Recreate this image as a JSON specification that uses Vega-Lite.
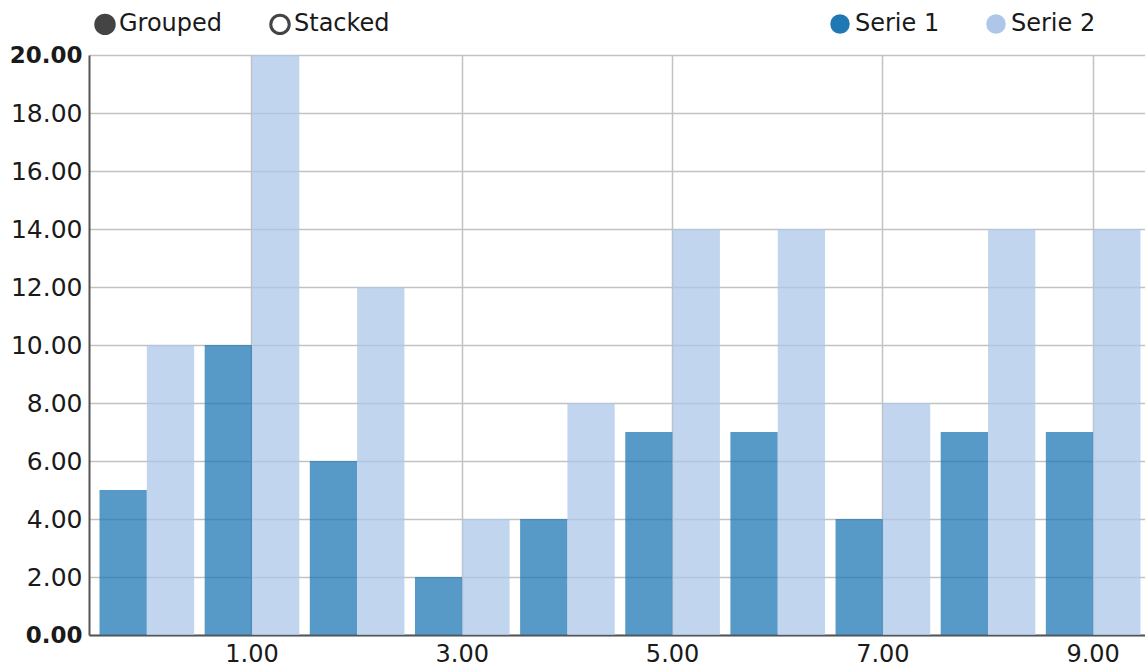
{
  "$schema": "https://vega.github.io/schema/vega-lite/v6.json",
  "width": 1056,
  "height": 580,
  "autosize": "none",
  "padding": {"left": 89, "top": 55, "right": 0, "bottom": 36},
  "background": "white",
  "config": {
    "font": "DejaVu Sans",
    "view": {"stroke": null},
    "axis": {
      "labelFont": "DejaVu Sans",
      "labelFontSize": 24,
      "labelColor": "#1a1a1a",
      "gridColor": "#c2c2c2",
      "gridWidth": 1.5,
      "domainColor": "#555555",
      "domainWidth": 2,
      "ticks": false,
      "title": null
    },
    "legend": {
      "labelFont": "DejaVu Sans",
      "labelFontSize": 24,
      "labelColor": "#1a1a1a",
      "title": null,
      "padding": 0
    }
  },
  "datasets": {
    "bars": [
      {"x": 0, "series": "Serie 1", "value": 5},
      {"x": 1, "series": "Serie 1", "value": 10},
      {"x": 2, "series": "Serie 1", "value": 6},
      {"x": 3, "series": "Serie 1", "value": 2},
      {"x": 4, "series": "Serie 1", "value": 4},
      {"x": 5, "series": "Serie 1", "value": 7},
      {"x": 6, "series": "Serie 1", "value": 7},
      {"x": 7, "series": "Serie 1", "value": 4},
      {"x": 8, "series": "Serie 1", "value": 7},
      {"x": 9, "series": "Serie 1", "value": 7},
      {"x": 0, "series": "Serie 2", "value": 10},
      {"x": 1, "series": "Serie 2", "value": 20},
      {"x": 2, "series": "Serie 2", "value": 12},
      {"x": 3, "series": "Serie 2", "value": 4},
      {"x": 4, "series": "Serie 2", "value": 8},
      {"x": 5, "series": "Serie 2", "value": 14},
      {"x": 6, "series": "Serie 2", "value": 14},
      {"x": 7, "series": "Serie 2", "value": 8},
      {"x": 8, "series": "Serie 2", "value": 14},
      {"x": 9, "series": "Serie 2", "value": 14}
    ],
    "controls": [
      {"mode": "Grouped"},
      {"mode": "Stacked"}
    ]
  },
  "layer": [
    {
      "data": {"name": "bars"},
      "mark": {"type": "bar", "opacity": 0.75},
      "encoding": {
        "x": {
          "field": "x",
          "type": "ordinal",
          "scale": {"range": [0, 1062], "paddingInner": 0.1, "paddingOuter": 0.1},
          "axis": {
            "values": [1, 3, 5, 7, 9],
            "labelExpr": "format(datum.value, '.2f')",
            "labelAngle": 0,
            "labelPadding": 7,
            "grid": true,
            "bandPosition": 0.5
          }
        },
        "xOffset": {
          "field": "series",
          "type": "nominal",
          "scale": {"paddingInner": 0, "paddingOuter": 0}
        },
        "y": {
          "field": "value",
          "type": "quantitative",
          "scale": {"domain": [0, 20], "nice": false},
          "axis": {
            "values": [0, 2, 4, 6, 8, 10, 12, 14, 16, 18, 20],
            "format": ".2f",
            "labelPadding": 7,
            "grid": true,
            "labelFontWeight": {
              "condition": {"test": "datum.value == 0 || datum.value == 20", "value": "bold"},
              "value": "normal"
            },
            "labelFontSize": {
              "condition": {"test": "datum.value == 0 || datum.value == 20", "value": 23},
              "value": 25
            }
          }
        },
        "color": {
          "field": "series",
          "type": "nominal",
          "scale": {"domain": ["Serie 1", "Serie 2"], "range": ["#1f77b4", "#aec7e8"]},
          "legend": {
            "orient": "none",
            "legendX": 739,
            "legendY": -43,
            "direction": "horizontal",
            "symbolType": "circle",
            "symbolSize": 380,
            "symbolOpacity": 1,
            "symbolStrokeWidth": 0,
            "labelOffset": 3,
            "columnPadding": 44
          }
        }
      }
    },
    {
      "data": {"name": "controls"},
      "mark": {"type": "point", "filled": true, "opacity": 0},
      "encoding": {
        "fill": {
          "field": "mode",
          "type": "nominal",
          "scale": {"domain": ["Grouped", "Stacked"], "range": ["#444444", "#ffffff"]},
          "legend": {
            "orient": "none",
            "legendX": 4,
            "legendY": -43,
            "direction": "horizontal",
            "symbolType": "circle",
            "symbolSize": 340,
            "symbolOpacity": 1,
            "symbolStrokeColor": "#444444",
            "symbolStrokeWidth": 3,
            "labelOffset": 2,
            "columnPadding": 41
          }
        }
      }
    }
  ]
}
